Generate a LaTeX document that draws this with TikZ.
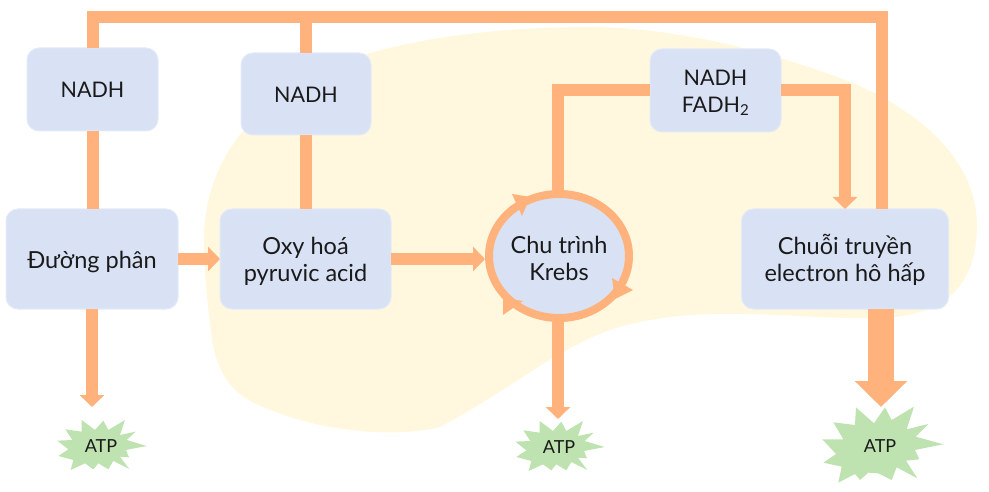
\documentclass[tikz,border=0pt]{standalone}
\usepackage{fontspec}
\setmainfont{Lato}
\usetikzlibrary{arrows.meta,shapes.geometric}
\definecolor{flow}{HTML}{FFB27B}
\definecolor{boxfill}{HTML}{D9E2F5}
\definecolor{boxline}{HTML}{E3EAF8}
\definecolor{blobfill}{HTML}{FFF8DE}
\definecolor{burst}{HTML}{BFE3B0}
\definecolor{ink}{HTML}{1A1A1A}
\newcommand{\lowertext}[1]{\rule{0pt}{#1}}
\tikzset{
  procbox/.style={draw=boxline,line width=1pt,fill=boxfill,rounded corners=12pt,align=center,
    font=\fontsize{23.5}{27}\selectfont,text=ink,inner sep=0pt,outer sep=0pt},
  shortbox/.style={procbox,font=\fontsize{21.5}{27}\selectfont},
  pipe/.style={draw=flow,line width=12pt},
  pipearrow/.style={draw=flow,line width=12pt,-{Triangle[width=24pt,length=12pt]}},
  atplabel/.style={font=\fontsize{18}{20}\selectfont,text=ink,inner sep=0pt},
  burstshape/.style={fill=burst,draw=none},
  turn/.style={fill=flow,draw=none}
}
\newcommand{\smallburst}[2]{%
  \path[burstshape,shift={(#1,#2)},x=0.3333pt,y=-0.3333pt]
  (190,122)--(205,150)--(255,120)--(240,165)--(287,155)--(260,180)--(320,198)--(258,210)--(267,232)--(240,230)--(268,267)--(220,243)--(205,268)--(175,250)--(160,268)--(135,250)--(92,270)--(100,240)--(55,228)--(85,208)--(52,182)--(97,180)--(76,148)--(125,155)--(125,120)--(165,150)--cycle;}
\begin{document}
\begin{tikzpicture}[x=1pt,y=-1pt]
\useasboundingbox (0,0) rectangle (989,492);
% cytoplasm / mitochondrion blob
\path[fill=blobfill] (204,235)
  .. controls (206,185) and (225,130) .. (300,82)
  .. controls (350,52) and (440,30) .. (570,27)
  .. controls (660,25) and (750,45) .. (840,78)
  .. controls (900,100) and (977,150) .. (977,225)
  .. controls (977,290) and (940,316) .. (880,318)
  .. controls (800,320) and (720,305) .. (640,322)
  .. controls (570,335) and (520,385) .. (440,427)
  .. controls (400,437) and (340,433) .. (290,417)
  .. controls (250,403) and (222,395) .. (212,340)
  .. controls (209,315) and (203,270) .. (204,235) -- cycle;
% nodes
\node[shortbox,minimum width=131pt,minimum height=83pt] (nadhA) at (92.5,89.5) {NADH};
\node[shortbox,minimum width=130pt,minimum height=82pt] (nadhB) at (306,94) {\lowertext{18pt}NADH};
\node[shortbox,minimum width=131pt,minimum height=83pt] (nadhC) at (715.5,90.5) {\lowertext{20pt}NADH\\FADH\textsubscript{2}};
\node[procbox,minimum width=172pt,minimum height=100pt] (gly) at (92,259) {\lowertext{23pt}Đường phân};
\node[procbox,minimum width=171pt,minimum height=100pt] (oxy) at (305.5,259) {\lowertext{22pt}Oxy hoá\\pyruvic acid};
\node[procbox,minimum width=207pt,minimum height=100pt] (chain) at (845,259) {\lowertext{22pt}Chuỗi truyền\\electron hô hấp};
\node[ellipse,draw=flow,line width=8pt,fill=boxfill,minimum width=140pt,minimum height=124pt,inner sep=0pt,outer sep=4pt,
  align=center,font=\fontsize{23.5}{27}\selectfont,text=ink] (krebs) at (559,256) {\lowertext{22pt}Chu trình\\Krebs};
% rotation arrowheads on the cycle
\path[turn] (512,194)--(530,197)--(522,216)--cycle;
\path[turn] (612,278)--(633,290)--(615,299)--cycle;
\path[turn] (503,315)--(503,298)--(523,301)--cycle;
% free ends
\coordinate (tipA) at (92,407);
\coordinate (tipB) at (558,419);
\coordinate (tipC) at (881,407);
\coordinate (topA) at (92.5,17);
\coordinate (topB) at (306,17);
\coordinate (topC) at (882,17);
\coordinate (chainTop) at (882,209);
\coordinate (elbowL) at (558,90.5);
\coordinate (elbowR) at (845,90.5);
% connectors
\draw[pipe,line join=miter] (nadhA.north) -- (topA) -- (topC) -- (chainTop);
\draw[pipe] (nadhB.north) -- (topB);
\draw[pipe] (nadhA.south) -- (gly.north -| nadhA.south);
\draw[pipe] (nadhB.south) -- (nadhB.south |- oxy.north);
\draw[pipe,line join=miter] (krebs.north -| elbowL) -- (elbowL) -- (nadhC.west);
\draw[pipearrow,line join=miter] (nadhC.east) -- (elbowR) -- (chain.north -| elbowR);
\draw[pipearrow] (gly.east) -- (oxy.west);
\draw[pipearrow] (oxy.east) -- (oxy.east -| krebs.west);
\draw[pipearrow] (gly.south) -- (tipA);
\draw[pipearrow] (krebs.south -| tipB) -- (tipB);
\draw[draw=flow,line width=26pt,-{Triangle[width=51pt,length=26pt]}] (chain.south -| tipC) -- (tipC);
% bursts
\smallburst{40}{380}
\smallburst{498}{381}
\path[burstshape,shift={(800,370)},x=0.3333pt,y=-0.3333pt]
  (255,112)--(275,150)--(342,110)--(320,178)--(385,162)--(347,200)--(430,223)--(345,240)--(358,268)--(318,272)--(352,325)--(290,292)--(275,330)--(235,310)--(205,308)--(180,330)--(165,312)--(115,338)--(125,290)--(70,278)--(108,252)--(67,208)--(130,208)--(100,157)--(165,165)--(168,112)--(222,160)--cycle;
\node[atplabel] (atpA) at (101,446) {ATP};
\node[atplabel] (atpB) at (559,447) {ATP};
\node[atplabel] (atpC) at (880,446) {ATP};
\end{tikzpicture}
\end{document}
